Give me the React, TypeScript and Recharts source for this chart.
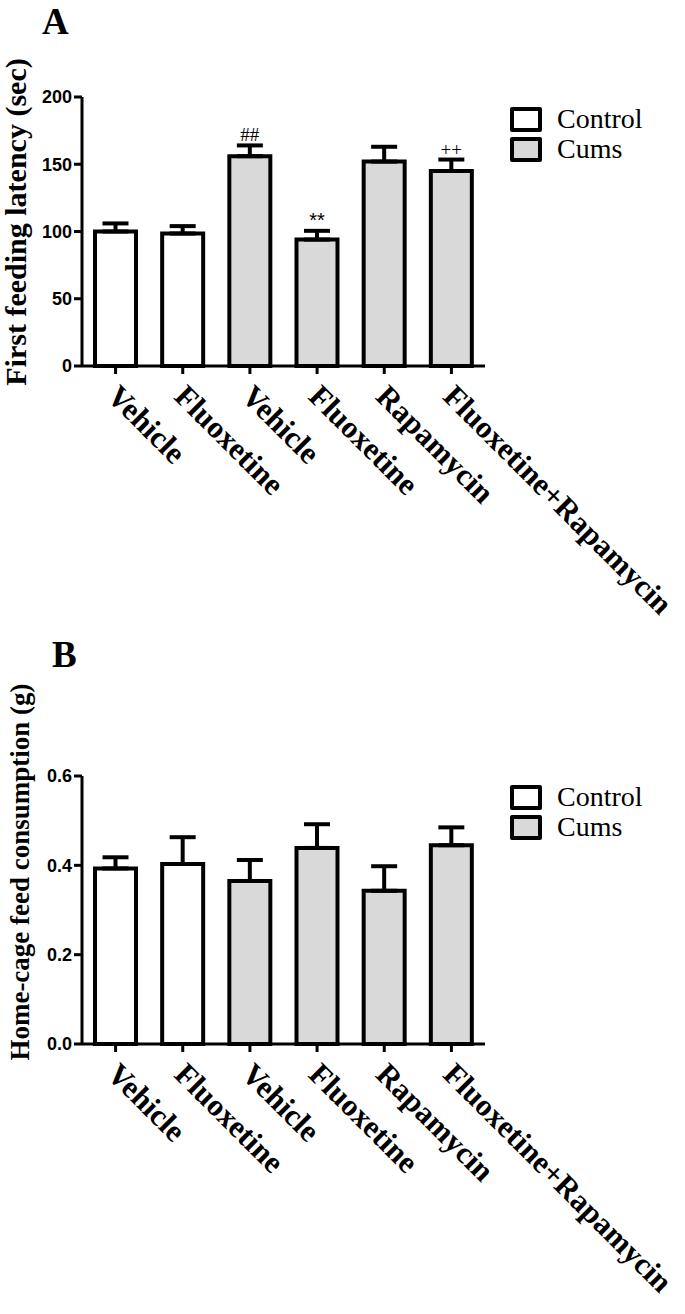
import React from 'react';
import { BarChart, Bar, XAxis, YAxis, ErrorBar, Cell, Legend, LabelList } from 'recharts';

const categories = ['Vehicle', 'Fluoxetine', 'Vehicle', 'Fluoxetine', 'Rapamycin', 'Fluoxetine+Rapamycin'];
const groups = ['Control', 'Control', 'Cums', 'Cums', 'Cums', 'Cums'];
const legendNames = ['Control', 'Cums'];
const legendFills = ['#ffffff', '#d9d9d9'];

const latencyMean = [100, 98.5, 156, 94, 152, 145];
const latencySem = [6, 5.5, 8, 6.5, 11, 8.5];
const latencyMarks = ['', '', '##', '**', '', '++'];
const latencyTicks = [0, 50, 100, 150, 200];

const consumptionMean = [0.393, 0.403, 0.365, 0.439, 0.343, 0.445];
const consumptionSem = [0.025, 0.06, 0.047, 0.053, 0.055, 0.04];
const consumptionMarks = ['', '', '', '', '', ''];
const consumptionTicks = [0, 0.2, 0.4, 0.6];

const fillFor = (g: string) => legendFills[legendNames.indexOf(g)];

const buildData = (means: number[], sems: number[], marks: string[]) =>
  categories.map((name, i) => ({
    name,
    group: groups[i],
    value: means[i],
    err: [0, sems[i]],
    sem: sems[i],
    mark: marks[i],
  }));

const latencyData = buildData(latencyMean, latencySem, latencyMarks);
const consumptionData = buildData(consumptionMean, consumptionSem, consumptionMarks);

const SERIF = '"Liberation Serif", "Times New Roman", serif';
const SANS = '"Liberation Sans", Arial, sans-serif';

const XTick = (props: any) => {
  const { x, y, payload } = props;
  return (
    <g transform={`translate(${x - 10},${y + 22}) rotate(45)`}>
      <text x={0} y={0} textAnchor="start" fontFamily={SERIF} fontWeight="bold" fontSize={31} fill="#000">
        {payload.value}
      </text>
    </g>
  );
};

const LegendBox = () => (
  <div style={{ fontFamily: SERIF, fontSize: 28, color: '#000' }}>
    {legendNames.map((n, i) => (
      <div key={n} style={{ display: 'flex', alignItems: 'center', height: 30 }}>
        <div
          style={{
            width: 24,
            height: 17,
            border: '4px solid #000',
            borderRadius: 2,
            background: legendFills[i],
            marginRight: 15,
          }}
        />
        <span style={{ lineHeight: '30px' }}>{n}</span>
      </div>
    ))}
  </div>
);

const PanelTitle = ({ text, x, y }: { text: string; x: number; y: number }) => (
  <text x={x} y={y} fontFamily={SERIF} fontWeight="bold" fontSize={37} fill="#000">
    {text}
  </text>
);

const makeMarkRenderer = (data: any[], font: (m: string) => string, size: (m: string) => number) => (props: any) => {
  const { x, y, width, height, index } = props;
  const d = data[index];
  if (!d || !d.mark) return null;
  const pxPerUnit = height / d.value;
  const top = y - d.sem * pxPerUnit;
  return (
    <text
      x={x + width / 2}
      y={top - 4}
      textAnchor="middle"
      fontFamily={font(d.mark)}
      fontSize={size(d.mark)}
      fill="#000"
    >
      {d.mark}
    </text>
  );
};

const axisStyle = { stroke: '#000', strokeWidth: 3 };
const tickStyle = { fontFamily: SANS, fontWeight: 'bold', fontSize: 18, fill: '#000' };

const YLabel = ({ text, x, y, size }: { text: string; x: number; y: number; size: number }) => (
  <text
    x={x}
    y={y}
    transform={`rotate(-90, ${x}, ${y})`}
    textAnchor="middle"
    fontFamily={SERIF}
    fontWeight="bold"
    fontSize={size}
    fill="#000"
  >
    {text}
  </text>
);

export default function App() {
  return (
    <div style={{ position: 'absolute', left: 0, top: 0, width: 685, height: 1314, background: '#fff' }}>
      <div style={{ position: 'absolute', left: 0, top: 0 }}>
        <BarChart
          width={685}
          height={700}
          data={latencyData}
          margin={{ top: 97, right: 200, bottom: 304, left: 0 }}
        >
          <XAxis
            dataKey="name"
            height={30}
            axisLine={axisStyle}
            tickLine={axisStyle}
            tickSize={8}
            tick={<XTick />}
            interval={0}
          />
          <YAxis
            width={82}
            domain={[0, 200]}
            ticks={latencyTicks}
            axisLine={axisStyle}
            tickLine={axisStyle}
            tickSize={8}
            tick={tickStyle}
            label={() => <YLabel text="First feeding latency (sec)" x={26} y={222} size={30} />}
          />
          <Legend
            layout="horizontal"
            verticalAlign="middle"
            align="center"
            content={() => <LegendBox />}
            wrapperStyle={{ position: 'absolute', left: 510, top: 104, width: 175 }}
          />
          <Bar dataKey="value" barSize={41} stroke="#000" strokeWidth={4} isAnimationActive={false}>
            {latencyData.map((d, i) => (
              <Cell key={i} fill={fillFor(d.group)} />
            ))}
            <ErrorBar dataKey="err" width={13} stroke="#000" strokeWidth={4} direction="y" />
            <LabelList
              dataKey="mark"
              content={makeMarkRenderer(
                latencyData,
                (m) => (m === '**' ? SANS : SERIF),
                (m) => (m === '**' ? 20 : 19)
              )}
            />
          </Bar>
          <PanelTitle text="A" x={42} y={34} />
        </BarChart>
      </div>
      <div style={{ position: 'absolute', left: 0, top: 620 }}>
        <BarChart
          width={685}
          height={694}
          data={consumptionData}
          margin={{ top: 156, right: 200, bottom: 240, left: 0 }}
        >
          <XAxis
            dataKey="name"
            height={30}
            axisLine={axisStyle}
            tickLine={axisStyle}
            tickSize={8}
            tick={<XTick />}
            interval={0}
          />
          <YAxis
            width={82}
            domain={[0, 0.6]}
            ticks={consumptionTicks}
            tickFormatter={(v: number) => v.toFixed(1)}
            axisLine={axisStyle}
            tickLine={axisStyle}
            tickSize={8}
            tick={tickStyle}
            label={() => <YLabel text="Home-cage feed consumption (g)" x={29} y={252} size={27} />}
          />
          <Legend
            layout="horizontal"
            verticalAlign="middle"
            align="center"
            content={() => <LegendBox />}
            wrapperStyle={{ position: 'absolute', left: 510, top: 162, width: 175 }}
          />
          <Bar dataKey="value" barSize={41} stroke="#000" strokeWidth={4} isAnimationActive={false}>
            {consumptionData.map((d, i) => (
              <Cell key={i} fill={fillFor(d.group)} />
            ))}
            <ErrorBar dataKey="err" width={13} stroke="#000" strokeWidth={4} direction="y" />
          </Bar>
          <PanelTitle text="B" x={52} y={47} />
        </BarChart>
      </div>
    </div>
  );
}
